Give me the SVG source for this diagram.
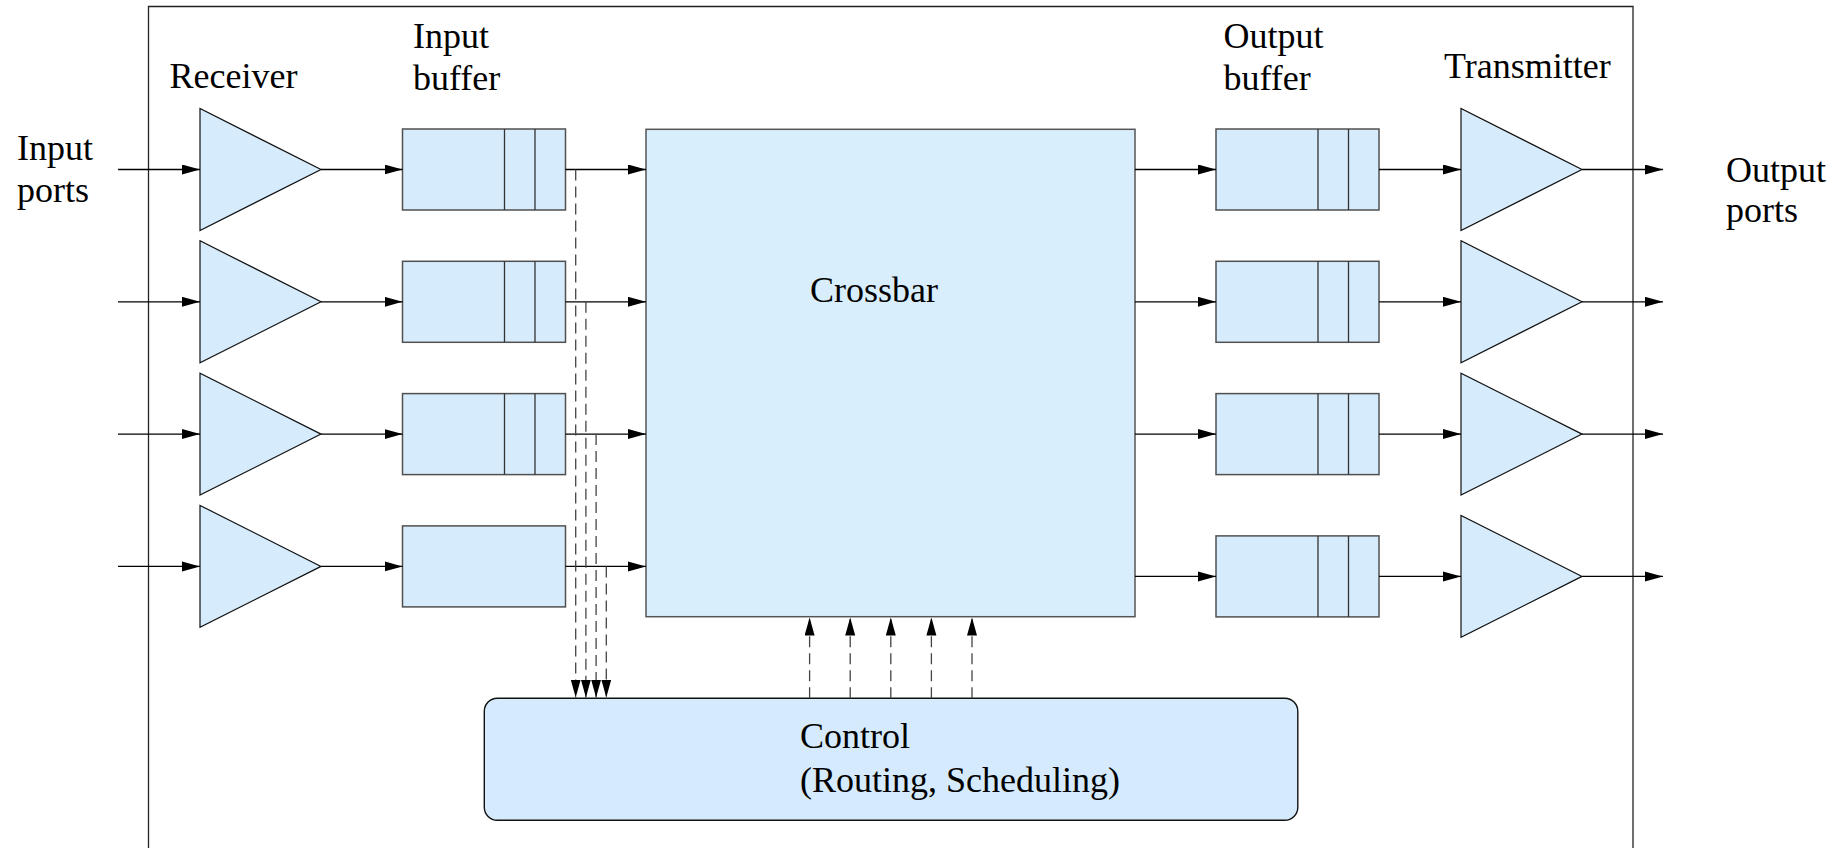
<svg xmlns="http://www.w3.org/2000/svg" width="1842" height="848" viewBox="0 0 1842 848">
<defs>
<marker id="ah" markerUnits="userSpaceOnUse" markerWidth="20" markerHeight="12" refX="18" refY="5" orient="auto">
<path d="M0,0 L18,5 L0,10 z" fill="#000" stroke="none"/>
</marker>
<style>
text{font-family:'Liberation Serif','Times New Roman',Times,serif;font-size:36px;fill:#000}
.tri{fill:#d6ebfc;stroke:#111;stroke-width:1.2}
.buf{fill:#d6ebfc;stroke:#505050;stroke-width:1.5}
.div{stroke:#333;stroke-width:1.3;fill:none}
.ln{stroke:#000;stroke-width:1.3;fill:none;marker-end:url(#ah)}
.dl{stroke:#444;stroke-width:1.3;fill:none;stroke-dasharray:11 6;marker-end:url(#ah)}
</style>
</defs>
<rect width="1842" height="848" fill="#fff"/>
<path id="frame" d="M148.5,848 V6.5 H1633 V848" fill="none" stroke="#222" stroke-width="1.3"/>

<g id="labels" font-family="Liberation Serif, Times New Roman, serif" font-size="36">
<text x="17" y="159.5">Input</text>
<text x="17" y="201.5">ports</text>
<text x="169.5" y="88.3">Receiver</text>
<text x="413" y="48.3">Input</text>
<text x="413" y="90">buffer</text>
<text x="1223.5" y="48.3">Output</text>
<text x="1223.5" y="90">buffer</text>
<text x="1444" y="78.3">Transmitter</text>
<text x="1726" y="181.7">Output</text>
<text x="1726" y="221.7">ports</text>
</g>

<g id="crossbar" font-family="Liberation Serif, Times New Roman, serif" font-size="36">
<rect x="646" y="129.3" width="489" height="487.4" fill="#d9eefd" stroke="#555" stroke-width="1.5"/>
<text x="810" y="301.7">Crossbar</text>
</g>

<g id="control" font-family="Liberation Serif, Times New Roman, serif" font-size="36">
<rect x="484.3" y="698.3" width="813.5" height="122" rx="13" ry="13" fill="#d5eafc" stroke="#111" stroke-width="1.4"/>
<text x="800" y="748.3">Control</text>
<text x="800" y="791.7">(Routing, Scheduling)</text>
</g>

<g id="receiver1"><polygon class="tri" points="200,108.5 200,230.5 321,169.5"/></g>
<g id="receiver2"><polygon class="tri" points="200,240.8 200,362.8 321,301.8"/></g>
<g id="receiver3"><polygon class="tri" points="200,373.1 200,495.1 321,434.1"/></g>
<g id="receiver4"><polygon class="tri" points="200,505.4 200,627.4 321,566.4"/></g>

<g id="inbuf1"><rect class="buf" x="402.5" y="129" width="163" height="81"/><path class="div" d="M504.5,129 V210 M535,129 V210"/></g>
<g id="inbuf2"><rect class="buf" x="402.5" y="261.3" width="163" height="81"/><path class="div" d="M504.5,261.3 V342.3 M535,261.3 V342.3"/></g>
<g id="inbuf3"><rect class="buf" x="402.5" y="393.6" width="163" height="81"/><path class="div" d="M504.5,393.6 V474.6 M535,393.6 V474.6"/></g>
<g id="inbuf4"><rect class="buf" x="402.5" y="525.9" width="163" height="81"/></g>

<g id="outbuf1"><rect class="buf" x="1216" y="129" width="163" height="81"/><path class="div" d="M1318,129 V210 M1348.5,129 V210"/></g>
<g id="outbuf2"><rect class="buf" x="1216" y="261.3" width="163" height="81"/><path class="div" d="M1318,261.3 V342.3 M1348.5,261.3 V342.3"/></g>
<g id="outbuf3"><rect class="buf" x="1216" y="393.6" width="163" height="81"/><path class="div" d="M1318,393.6 V474.6 M1348.5,393.6 V474.6"/></g>
<g id="outbuf4"><rect class="buf" x="1216" y="535.9" width="163" height="81"/><path class="div" d="M1318,535.9 V616.9 M1348.5,535.9 V616.9"/></g>

<g id="transmitter1"><polygon class="tri" points="1461,108.5 1461,230.5 1582,169.5"/></g>
<g id="transmitter2"><polygon class="tri" points="1461,240.8 1461,362.8 1582,301.8"/></g>
<g id="transmitter3"><polygon class="tri" points="1461,373.1 1461,495.1 1582,434.1"/></g>
<g id="transmitter4"><polygon class="tri" points="1461,515.4 1461,637.4 1582,576.4"/></g>

<g id="connectors">
<path class="ln" d="M118,169.5 H200"/>
<path class="ln" d="M118,301.8 H200"/>
<path class="ln" d="M118,434.1 H200"/>
<path class="ln" d="M118,566.4 H200"/>
<path class="ln" d="M321,169.5 H402.5"/>
<path class="ln" d="M321,301.8 H402.5"/>
<path class="ln" d="M321,434.1 H402.5"/>
<path class="ln" d="M321,566.4 H402.5"/>
<path class="ln" d="M565.5,169.5 H646"/>
<path class="ln" d="M565.5,301.8 H646"/>
<path class="ln" d="M565.5,434.1 H646"/>
<path class="ln" d="M565.5,566.4 H646"/>
<path class="ln" d="M1135,169.5 H1216"/>
<path class="ln" d="M1135,301.8 H1216"/>
<path class="ln" d="M1135,434.1 H1216"/>
<path class="ln" d="M1135,576.4 H1216"/>
<path class="ln" d="M1379,169.5 H1461"/>
<path class="ln" d="M1379,301.8 H1461"/>
<path class="ln" d="M1379,434.1 H1461"/>
<path class="ln" d="M1379,576.4 H1461"/>
<path class="ln" d="M1582,169.5 H1663"/>
<path class="ln" d="M1582,301.8 H1663"/>
<path class="ln" d="M1582,434.1 H1663"/>
<path class="ln" d="M1582,576.4 H1663"/>
<path class="dl" d="M575.7,169.5 V697.5"/>
<path class="dl" d="M585.9,301.8 V697.5"/>
<path class="dl" d="M596.1,434.1 V697.5"/>
<path class="dl" d="M606.3,566.4 V697.5"/>
<path class="dl" d="M809.6,698.3 V617.5"/>
<path class="dl" d="M850.2,698.3 V617.5"/>
<path class="dl" d="M890.8,698.3 V617.5"/>
<path class="dl" d="M931.4,698.3 V617.5"/>
<path class="dl" d="M972,698.3 V617.5"/>
</g>
</svg>
